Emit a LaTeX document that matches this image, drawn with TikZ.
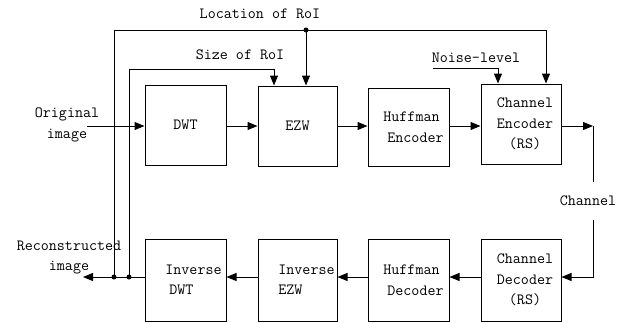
\documentclass[tikz,border=0pt]{standalone}
\usepackage{fontspec}
\usetikzlibrary{arrows.meta}
\begin{document}
\begin{tikzpicture}[x=1pt,y=-1pt,
  font=\ttfamily\fontsize{15.6pt}{20.5pt}\selectfont,
  line width=1pt,
  blk/.style={draw, rectangle, minimum width=81pt, minimum height=80pt, inner sep=0pt, align=center},
  arr/.style={-{Triangle[length=10pt,width=8pt]}},
  dot/.style={circle, fill, inner sep=0pt, minimum size=5pt},
  lbl/.style={inner sep=0pt, align=center}]
\useasboundingbox (0,0) rectangle (621,322);
% top row
\node[blk] (dwt) at (185.5,125) {DWT};
\node[blk, minimum width=79pt] (ezw) at (297.5,126) {EZW};
\node[blk, minimum height=78pt] (he) at (408.5,127) {\hspace*{6pt}Huffman\\\hspace*{14pt}Encoder};
\node[blk, minimum width=80pt] (ce) at (521,124) {\hspace*{8pt}Channel\\\hspace*{8pt}Encoder\\\hspace*{8pt}(RS)};
% bottom row
\node[blk, minimum height=82pt, align=left] (idwt) at (185.5,280) {\hspace*{16pt}Inverse\\\hspace*{20pt}DWT};
\node[blk, minimum width=79pt, minimum height=82pt, align=left] (iezw) at (297.5,280) {\hspace*{18pt}Inverse\\\hspace*{18pt}EZW};
\node[blk, minimum height=82pt] (hd) at (408.5,280) {\hspace*{6pt}Huffman\\\hspace*{14pt}Decoder};
\node[blk, minimum width=80pt, minimum height=82pt] (cd) at (521,280) {\hspace*{8pt}Channel\\\hspace*{8pt}Decoder\\\hspace*{8pt}(RS)};
% labels
\node[lbl] (orig) at (67,125) {Original\\image};
\node[lbl] (recon) at (69,257.5) {Reconstructed\\image};
\node[lbl] (loc) at (260,14) {Location of RoI};
\node[lbl] (size) at (240,55) {Size of RoI};
\node[lbl] (noise) at (476,58) {Noise-level};
\node[lbl] (chan) at (588,201) {Channel};
% coordinates
\coordinate (oin) at (87,126);
\coordinate (chR) at (593,126);
\coordinate (C1) at (593,182);
\coordinate (C2) at (593,220);
\coordinate (chB) at (593,277);
\coordinate (rout) at (83,277);
\coordinate (L1) at (114,277);
\coordinate (L2) at (114,30);
\coordinate (L3) at (546,30);
\coordinate (Ld) at (306,30);
\coordinate (S1) at (129,277);
\coordinate (S2) at (129,69);
\coordinate (S3) at (274,69);
\coordinate (N1) at (433,68);
\coordinate (N2) at (498,68);
% top arrows
\draw[arr] (oin) -- (oin -| dwt.west);
\draw[arr] (dwt.east |- oin) -- (ezw.west |- oin);
\draw[arr] (ezw.east |- oin) -- (he.west |- oin);
\draw[arr] (he.east |- oin) -- (ce.west |- oin);
\draw[arr] (ce.east |- chR) -- (chR);
% channel
\draw (chR) -- (C1);
\draw[arr] (C2) -- (chB) -- (cd.east |- chB);
% bottom arrows
\draw[arr] (cd.west |- chB) -- (hd.east |- chB);
\draw[arr] (hd.west |- chB) -- (iezw.east |- chB);
\draw[arr] (iezw.west |- chB) -- (idwt.east |- chB);
\draw[arr] (idwt.west |- chB) -- (rout);
% location of RoI
\draw[arr] (L1) -- (L2) -- (L3) -- (L3 |- ce.north);
\draw[arr] (Ld) -- (Ld |- ezw.north);
\node[dot] at (Ld) {};
\node[dot] at (L1) {};
% size of RoI
\draw[arr] (S1) -- (S2) -- (S3) -- (S3 |- ezw.north);
\node[dot] at (S1) {};
% noise
\draw[arr] (N1) -- (N2) -- (N2 |- ce.north);
\end{tikzpicture}
\end{document}
